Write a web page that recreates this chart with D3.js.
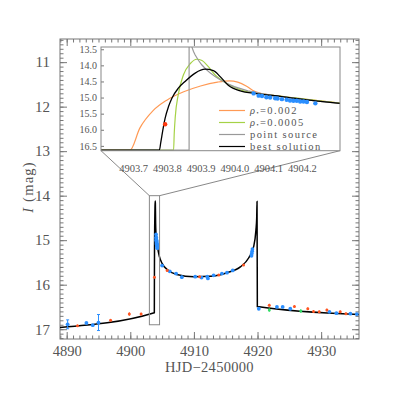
<!DOCTYPE html>
<html>
<head>
<meta charset="utf-8">
<script src="https://cdn.jsdelivr.net/npm/d3@7"></script>
<style>
  body { margin: 0; background: #fff; }
  text { font-family: "Liberation Serif", serif; fill: #555; }
</style>
</head>
<body>
<script>
// observed points: [HJD-2450000, I (mag), error]
const blueObs = [
  [4890.15, 16.89, 0.10], [4893.1, 16.86, 0.02], [4894.1, 16.91, 0.03], [4895.0, 16.85, 0.18],
  [4904.057, 14.87, 0.01], [4904.072, 14.94, 0.01], [4904.082, 14.95, 0.01], [4904.095, 14.99, 0.01],
  [4904.106, 15.00, 0.01], [4904.121, 15.02, 0.01], [4904.128, 15.03, 0.01], [4904.141, 15.05, 0.01],
  [4904.155, 15.07, 0.01], [4904.165, 15.09, 0.01], [4904.175, 15.10, 0.01], [4904.185, 15.10, 0.01],
  [4904.195, 15.12, 0.01], [4904.205, 15.12, 0.01], [4904.215, 15.14, 0.01], [4904.24, 15.18, 0.01],
  [4905.0, 15.57, 0.02], [4906.2, 15.70, 0.02], [4907.2, 15.75, 0.02], [4908.1, 15.83, 0.04],
  [4910.2, 15.82, 0.02], [4911.2, 15.84, 0.03], [4912.1, 15.82, 0.02], [4912.2, 15.86, 0.03],
  [4913.1, 15.79, 0.02], [4914.4, 15.75, 0.02], [4915.2, 15.73, 0.02], [4916.1, 15.68, 0.02],
  [4919.05, 15.35, 0.02], [4919.1, 15.30, 0.02], [4919.15, 15.25, 0.02], [4919.2, 15.20, 0.02],
  [4920.2, 16.54, 0.03], [4923.05, 16.50, 0.02], [4923.95, 16.50, 0.02], [4925.15, 16.54, 0.02],
  [4931.3, 16.61, 0.02], [4932.4, 16.64, 0.02], [4934.6, 16.65, 0.02], [4935.6, 16.66, 0.02]
];
const orangeObs = [
  [4891.7, 16.92, 0.02], [4896.9, 16.80, 0.02], [4899.85, 16.66, 0.04], [4901.7, 16.66, 0.03],
  [4903.795, 15.83, 0.02], [4905.8, 15.68, 0.02], [4910.9, 15.82, 0.02], [4913.9, 15.78, 0.02],
  [4917.8, 15.56, 0.02], [4921.85, 16.46, 0.03], [4925.8, 16.49, 0.03], [4927.9, 16.54, 0.03],
  [4928.8, 16.60, 0.03], [4929.7, 16.61, 0.03], [4930.9, 16.57, 0.03], [4933.0, 16.61, 0.03],
  [4933.9, 16.65, 0.03]
];
const greenObs = [[4921.85, 16.57, 0.04], [4926.8, 16.59, 0.04]];

// model light curves: [HJD-2450000, I (mag)]
const bestPre = [[4888.95, 16.96], [4903.778, 16.63]];
const bestSpike = [
  [4903.782, 16.40], [4903.785, 16.21], [4903.790, 15.90], [4903.795, 15.64], [4903.805, 15.28],
  [4903.815, 15.02], [4903.834, 14.71], [4903.854, 14.50], [4903.884, 14.24], [4903.913, 14.12],
  [4903.938, 14.16], [4903.958, 14.35], [4903.982, 14.62], [4904.02, 14.80], [4904.06, 14.87],
  [4904.14, 14.97], [4904.24, 15.10], [4904.313, 15.18]
];
const bestPost = [
  [4904.56, 15.36], [4905.0, 15.52], [4905.8, 15.66], [4907.3, 15.77], [4910.0, 15.82],
  [4912.6, 15.81], [4915.2, 15.73], [4917.3, 15.60], [4918.6, 15.40], [4919.4, 15.14],
  [4919.75, 14.77], [4919.87, 14.50], [4919.92, 14.13], [4919.97, 16.49], [4935.95, 16.67]
];
const rho002 = [
  [4903.6, 16.63], [4903.691, 16.63], [4903.72, 15.95], [4903.76, 15.40], [4903.80, 15.08],
  [4903.85, 14.82], [4903.90, 14.64], [4903.95, 14.52], [4903.985, 14.48], [4904.01, 14.52],
  [4904.035, 14.64], [4904.055, 14.78], [4904.075, 14.86], [4904.14, 14.96], [4904.24, 15.09],
  [4904.313, 15.17]
];
const rho0005 = [
  [4903.6, 16.63], [4903.82, 16.63], [4903.822, 16.10], [4903.825, 15.60], [4903.834, 14.90],
  [4903.849, 14.30], [4903.869, 13.95], [4903.889, 13.81], [4903.904, 13.85], [4903.923, 14.04],
  [4903.943, 14.30], [4903.968, 14.50], [4904.0, 14.68], [4904.03, 14.80], [4904.06, 14.86],
  [4904.14, 14.96], [4904.24, 15.09], [4904.313, 15.17]
];
const pointSource = [
  [4903.6, 16.63], [4903.866, 16.63], [4903.866, 12.0], [4903.871, 12.0], [4903.874, 13.42],
  [4903.879, 13.57], [4903.884, 13.68], [4903.894, 13.85], [4903.904, 13.99], [4903.916, 14.12],
  [4903.929, 14.24], [4903.943, 14.35], [4903.958, 14.45], [4903.98, 14.57], [4904.0, 14.66],
  [4904.04, 14.79], [4904.08, 14.88], [4904.14, 14.97], [4904.24, 15.10], [4904.313, 15.18]
];

const mainXTicks = [4890, 4900, 4910, 4920, 4930];
const mainYTicks = [11, 12, 13, 14, 15, 16, 17];
const insetXTicks = [4903.7, 4903.8, 4903.9, 4904.0, 4904.1, 4904.2];
const insetYTicks = [13.5, 14.0, 14.5, 15.0, 15.5, 16.0, 16.5];
const boxT = [4903.0, 4904.6];
const boxMag = [14.0, 16.9];
const legendNames = ["0.002", "0.0005", "point source", "best solution"];
const legendColors = ["#ff9a55", "#a5d246", "#999", "#000"];

const w = 399, h = 399;
const m = {left: 60, right: 359, top: 39, bottom: 339};
const ib = {left: 101, right: 340, top: 47, bottom: 150.7};

const svg = d3.select("body").append("svg").attr("width", w).attr("height", h);
const defs = svg.append("defs");
defs.append("clipPath").attr("id", "clipMain").append("rect")
  .attr("x", m.left).attr("y", m.top).attr("width", m.right - m.left).attr("height", m.bottom - m.top);
defs.append("clipPath").attr("id", "clipInset").append("rect")
  .attr("x", ib.left).attr("y", ib.top).attr("width", ib.right - ib.left).attr("height", ib.bottom - ib.top);

const x = d3.scaleLinear().domain([4888.95, 4935.95]).range([m.left, m.right]);
const y = d3.scaleLinear().domain([10.48, 17.22]).range([m.top, m.bottom]);

const axisColor = "#777";
function styleAxis(g, size) {
  g.attr("color", axisColor);
  g.select(".domain").remove();
  g.selectAll("text").style("font-size", size + "px");
}

// main axes: ticks point inward on all four sides
svg.append("g").attr("transform", "translate(0," + m.bottom + ")")
  .call(d3.axisBottom(x).tickValues(mainXTicks).tickSize(-7).tickPadding(7).tickFormat(d3.format("d")))
  .call(g => styleAxis(g, 14.5));
svg.append("g").attr("transform", "translate(0," + m.bottom + ")")
  .call(d3.axisBottom(x).tickValues(d3.range(4889, 4936)).tickSize(-3.5).tickFormat(""))
  .call(g => styleAxis(g, 10));
svg.append("g").attr("transform", "translate(0," + m.top + ")")
  .call(d3.axisTop(x).tickValues(mainXTicks).tickSize(-7).tickFormat(""))
  .call(g => styleAxis(g, 10));
svg.append("g").attr("transform", "translate(0," + m.top + ")")
  .call(d3.axisTop(x).tickValues(d3.range(4889, 4936)).tickSize(-3.5).tickFormat(""))
  .call(g => styleAxis(g, 10));

const yMinor = d3.range(105, 173).map(d => d / 10);
svg.append("g").attr("transform", "translate(" + m.left + ",0)")
  .call(d3.axisLeft(y).tickValues(mainYTicks).tickSize(-7).tickPadding(10).tickFormat(d3.format("d")))
  .call(g => styleAxis(g, 15));
svg.append("g").attr("transform", "translate(" + m.left + ",0)")
  .call(d3.axisLeft(y).tickValues(yMinor).tickSize(-3.5).tickFormat(""))
  .call(g => styleAxis(g, 10));
svg.append("g").attr("transform", "translate(" + m.right + ",0)")
  .call(d3.axisRight(y).tickValues(mainYTicks).tickSize(-7).tickFormat(""))
  .call(g => styleAxis(g, 10));
svg.append("g").attr("transform", "translate(" + m.right + ",0)")
  .call(d3.axisRight(y).tickValues(yMinor).tickSize(-3.5).tickFormat(""))
  .call(g => styleAxis(g, 10));

svg.append("rect").attr("x", m.left).attr("y", m.top)
  .attr("width", m.right - m.left).attr("height", m.bottom - m.top)
  .attr("fill", "none").attr("stroke", axisColor).attr("stroke-width", 1);

svg.append("text").attr("x", (m.left + m.right) / 2).attr("y", 372)
  .attr("text-anchor", "middle").style("font-size", "14.5px").style("letter-spacing", "0.3px")
  .text("HJD\u22122450000");
const yl = svg.append("text").attr("transform", "translate(33,187) rotate(-90)")
  .attr("text-anchor", "middle").style("font-size", "14.5px").style("letter-spacing", "1.2px");
yl.append("tspan").style("font-style", "italic").text("I");
yl.append("tspan").text(" (mag)");

// observed points with error bars
function drawObs(g, data, xs, ys, color, r, cap) {
  const grp = g.append("g");
  grp.selectAll("line.eb").data(data).enter().append("line")
    .attr("x1", d => xs(d[0])).attr("x2", d => xs(d[0]))
    .attr("y1", d => ys(d[1] - d[2])).attr("y2", d => ys(d[1] + d[2]))
    .attr("stroke", color).attr("stroke-width", 1);
  const big = data.filter(d => ys(d[1] + d[2]) - ys(d[1] - d[2]) > 4);
  [-1, 1].forEach(s => {
    grp.selectAll("line.cap" + s).data(big).enter().append("line")
      .attr("x1", d => xs(d[0]) - cap).attr("x2", d => xs(d[0]) + cap)
      .attr("y1", d => ys(d[1] + s * d[2])).attr("y2", d => ys(d[1] + s * d[2]))
      .attr("stroke", color).attr("stroke-width", 1);
  });
  grp.selectAll("circle").data(data).enter().append("circle")
    .attr("cx", d => xs(d[0])).attr("cy", d => ys(d[1])).attr("r", r).attr("fill", color);
}

const mainG = svg.append("g").attr("clip-path", "url(#clipMain)");
const mainLine = d3.line().x(d => x(d[0])).y(d => y(d[1])).curve(d3.curveMonotoneX);
mainG.append("path").datum(bestPre.concat(bestSpike, bestPost)).attr("d", mainLine)
  .attr("fill", "none").attr("stroke", "#000").attr("stroke-width", 1.5);
drawObs(mainG, blueObs, x, y, "#2b8fff", 1.9, 1.5);
drawObs(mainG, orangeObs, x, y, "#ff5522", 1.5, 1.5);
drawObs(mainG, greenObs, x, y, "#33dd66", 1.5, 1.5);

// zoom box and connectors
svg.append("rect").attr("x", x(boxT[0])).attr("y", y(boxMag[0]))
  .attr("width", x(boxT[1]) - x(boxT[0])).attr("height", y(boxMag[1]) - y(boxMag[0]))
  .attr("fill", "none").attr("stroke", "#888").attr("stroke-width", 1);
svg.append("line").attr("x1", ib.left).attr("y1", ib.bottom).attr("x2", x(boxT[0])).attr("y2", y(boxMag[0]))
  .attr("stroke", "#888").attr("stroke-width", 1);
svg.append("line").attr("x1", ib.right).attr("y1", ib.bottom).attr("x2", x(boxT[1])).attr("y2", y(boxMag[0]))
  .attr("stroke", "#888").attr("stroke-width", 1);

// inset
const ix = d3.scaleLinear().domain([4903.605, 4904.313]).range([ib.left, ib.right]);
const iy = d3.scaleLinear().domain([13.43, 16.65]).range([ib.top, ib.bottom]);

svg.append("rect").attr("x", ib.left).attr("y", ib.top)
  .attr("width", ib.right - ib.left).attr("height", ib.bottom - ib.top).attr("fill", "#fff");

const insetG = svg.append("g").attr("clip-path", "url(#clipInset)");
const iLine = d3.line().x(d => ix(d[0])).y(d => iy(d[1])).curve(d3.curveMonotoneX);
const iLineLin = d3.line().x(d => ix(d[0])).y(d => iy(d[1]));
insetG.append("path").datum(rho002).attr("d", iLine).attr("fill", "none")
  .attr("stroke", legendColors[0]).attr("stroke-width", 1.2);
insetG.append("path").datum(rho0005).attr("d", iLine).attr("fill", "none")
  .attr("stroke", legendColors[1]).attr("stroke-width", 1.2);
insetG.append("path").datum(pointSource).attr("d", iLineLin).attr("fill", "none")
  .attr("stroke", legendColors[2]).attr("stroke-width", 1.2);
insetG.append("path").datum(bestPre.concat(bestSpike, bestPost)).attr("d", iLine).attr("fill", "none")
  .attr("stroke", legendColors[3]).attr("stroke-width", 1.3);

const inInset = d => d[0] >= 4903.605 && d[0] <= 4904.313;
insetG.selectAll("circle.b").data(blueObs.filter(inInset)).enter().append("circle")
  .attr("cx", d => ix(d[0])).attr("cy", d => iy(d[1])).attr("r", 2.2).attr("fill", "#2b8fff");
insetG.selectAll("circle.o").data(orangeObs.filter(inInset)).enter().append("circle")
  .attr("cx", d => ix(d[0])).attr("cy", d => iy(d[1])).attr("r", 2.2).attr("fill", "#ff3a10");

svg.append("g").attr("transform", "translate(" + ib.left + ",0)")
  .call(d3.axisLeft(iy).tickValues(insetYTicks).tickSize(-3).tickPadding(4).tickFormat(d3.format(".1f")))
  .call(g => styleAxis(g, 10));
svg.append("g").attr("transform", "translate(0," + ib.bottom + ")")
  .call(d3.axisBottom(ix).tickValues(insetXTicks).tickSize(0).tickPadding(14).tickFormat(d3.format(".1f")))
  .call(g => styleAxis(g, 10.5));

svg.append("rect").attr("x", ib.left).attr("y", ib.top)
  .attr("width", ib.right - ib.left).attr("height", ib.bottom - ib.top)
  .attr("fill", "none").attr("stroke", "#888").attr("stroke-width", 1);

// legend
const leg = svg.append("g");
legendNames.forEach((name, i) => {
  const ly = 110.5 + i * 12;
  leg.append("line").attr("x1", 219).attr("x2", 245).attr("y1", ly).attr("y2", ly)
    .attr("stroke", legendColors[i]).attr("stroke-width", 1.2);
  const t = leg.append("text").attr("x", 250).attr("y", ly).attr("dy", "0.33em")
    .style("font-size", "10.5px").style("letter-spacing", "1.4px");
  if (i < 2) {
    t.append("tspan").style("font-style", "italic").text("\u03c1");
    t.append("tspan").attr("dy", "1.5").style("font-size", "6px").text("\u2022");
    t.append("tspan").attr("dy", "-1.5").text("=" + name);
  } else {
    t.text(name);
  }
});
</script>
</body>
</html>
